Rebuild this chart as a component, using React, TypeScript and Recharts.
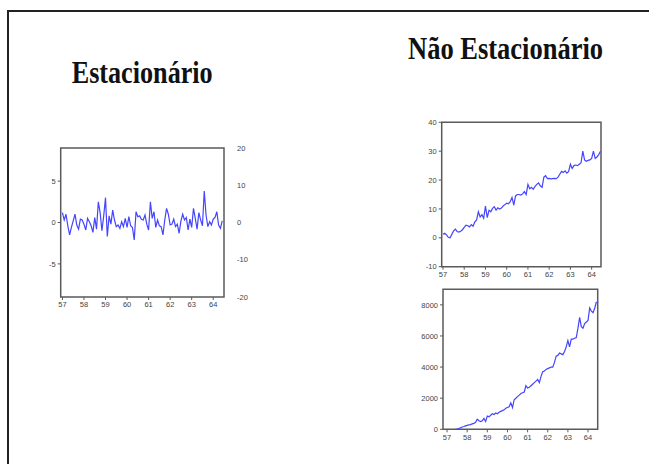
import { LineChart, Line, XAxis, YAxis, ReferenceArea } from 'recharts';

// monthly observations, 1957:01 - 1964:06
const START_YEAR = 57;
const yearTicks = [57, 58, 59, 60, 61, 62, 63, 64];

const stationary = [
  1.2, 0.3, 1.0, -0.4, -1.5, -0.6, 0.2, 1.0, -0.3, -0.8, 0.4, 0.3,
  -0.2, -0.9, 0.5, 0.1, -0.4, -1.2, 0.6, -0.8, 2.5, 1.2, -1.0, 0.8,
  3.0, -1.7, 0.8, -0.2, 1.5, 0.3, -0.5, -0.3, -0.7, 0.1, -0.5, 0.5,
  -0.6, 0.7, -0.4, -0.6, -2.1, 1.3, 0.7, 0.8, 0.4, 0.3, 0.9, -0.2,
  -0.9, 2.5, 0.5, 1.3, -0.6, 0.3, -0.4, -0.5, -1.5, 0.3, 1.7, 1.0,
  -0.3, -0.2, 0.4, -0.5, -0.2, -1.3, 0.2, 1.0, 0.3, 0.6, -0.9, 0.4,
  -0.6, 1.7, 0.5, -0.8, 1.2, 0.3, -0.4, 3.8, 0.9, -0.5, 0.1, -0.3,
  0.4, 0.6, 1.3, -0.3, -0.7, 0.2,
];

const trend = [
  1.2, 1.6, 1.0, 0.2, 0.0, 1.2, 2.4, 3.0, 2.2, 2.0, 2.3, 2.8,
  3.6, 4.4, 4.2, 3.8, 4.6, 4.0, 5.5, 6.2, 9.0, 7.2, 8.0, 6.8,
  11.0, 7.0, 9.5, 9.0, 10.2, 10.8, 9.6, 10.4, 10.0, 10.3, 11.0, 11.5,
  12.0, 11.8, 12.5, 14.0, 11.3, 14.5, 15.0, 15.0, 14.8, 15.2, 16.0, 15.0,
  18.5, 17.0, 17.5, 16.8, 17.8, 18.5, 19.0, 18.0, 17.5, 21.0, 21.5, 20.5,
  20.6, 20.4, 20.5, 20.6, 20.5, 21.0, 22.0, 23.0, 22.6, 23.2, 22.4, 23.0,
  25.5, 24.0, 25.0, 25.2, 25.0, 25.5, 26.0, 30.0, 27.0, 26.5, 26.8, 27.0,
  27.5, 30.0, 27.5, 28.0, 28.8, 30.0,
];

const growth = [
  null, null, null, null, null, 0, 20, 50, 90, 150, 180, 220,
  250, 280, 300, 350, 380, 450, 650, 550, 500, 550, 700, 500,
  850, 800, 900, 1000, 950, 1050, 1000, 1100, 1150, 1200, 1250, 1350,
  1400, 1450, 1700, 1400, 1900, 2000, 2100, 2200, 2300, 2350, 2400, 2800,
  2650, 2700, 2800, 2900, 3000, 3100, 3200, 3000, 3400, 3700, 3750, 3850,
  3900, 3950, 4000, 4000, 4300, 4700, 4750, 4900, 4850, 4800, 5000, 5300,
  5700, 5300, 5800, 5800, 5850, 5900, 6500, 7200, 6600, 6500, 6800, 6900,
  7000, 7800, 7600, 7500, 7800, 8200,
];

const rows = stationary.map((v, i) => ({
  t: START_YEAR + i / 12,
  stationary: v,
  trend: trend[i],
  growth: growth[i],
}));

const tickStyle = { fontSize: 7.5, fill: '#444', fontFamily: 'Arial, "Liberation Sans", sans-serif' };
const frame = '#5a5a5a';
const lineColor = '#4545ff';

export default function App() {
  return (
    <div style={{ position: 'absolute', left: 0, top: 0, width: 649, height: 464, background: '#fff', overflow: 'hidden' }}>
      <div style={{ position: 'absolute', left: 7, top: 10, width: 642, height: 454, borderTop: '2px solid #222', borderLeft: '2px solid #222', boxSizing: 'border-box' }} />

      <svg width={649} height={464} style={{ position: 'absolute', left: 0, top: 0 }}>
        <text x={71.7} y={82.7} fontFamily='"Liberation Serif", "Times New Roman", serif' fontWeight="bold" fontSize={32} textLength={141} lengthAdjust="spacingAndGlyphs" fill="#111">
          Estacionário
        </text>
        <text x={408} y={59.3} fontFamily='"Liberation Serif", "Times New Roman", serif' fontWeight="bold" fontSize={32} textLength={195} lengthAdjust="spacingAndGlyphs" fill="#111">
          Não Estacionário
        </text>
      </svg>

      {/* stationary series */}
      <div style={{ position: 'absolute', left: 30, top: 140 }}>
        <LineChart width={230} height={175} data={rows} margin={{ top: 8, right: 6, bottom: 0, left: 0 }}>
          <XAxis dataKey="t" type="number" domain={[56.92, 64.5]} ticks={yearTicks} allowDataOverflow axisLine={false} tickSize={3} tickLine={{ stroke: frame }} tick={tickStyle} height={18} interval={0} />
          <YAxis yAxisId="l" type="number" domain={[-9, 9]} ticks={[-5, 0, 5]} allowDataOverflow axisLine={false} tickSize={3} tickLine={{ stroke: frame }} tick={tickStyle} width={30.7} />
          <YAxis yAxisId="r" orientation="right" type="number" domain={[-20, 20]} ticks={[-20, -10, 0, 10, 20]} allowDataOverflow axisLine={false} tickLine={false} tickSize={11} tick={tickStyle} width={30} interval={0} />
          <ReferenceArea yAxisId="l" x1={56.92} x2={64.5} y1={-9} y2={9} fill="none" stroke={frame} strokeWidth={1.5} ifOverflow="visible" />
          <Line yAxisId="l" dataKey="stationary" stroke={lineColor} strokeWidth={1.2} dot={false} isAnimationActive={false} />
        </LineChart>
      </div>

      {/* linear trend */}
      <div style={{ position: 'absolute', left: 400, top: 114 }}>
        <LineChart width={210} height={170} data={rows} margin={{ top: 8.3, right: 9, bottom: 0, left: 0 }}>
          <XAxis dataKey="t" type="number" domain={[56.94, 64.44]} ticks={yearTicks} allowDataOverflow axisLine={false} tickSize={3} tickLine={{ stroke: frame }} tick={tickStyle} height={17.3} interval={0} />
          <YAxis type="number" domain={[-10, 40]} ticks={[-10, 0, 10, 20, 30, 40]} allowDataOverflow axisLine={false} tickSize={3} tickLine={{ stroke: frame }} tick={tickStyle} width={41.7} interval={0} />
          <ReferenceArea x1={56.94} x2={64.44} y1={-10} y2={40} fill="none" stroke={frame} strokeWidth={1.5} ifOverflow="visible" />
          <Line dataKey="trend" stroke={lineColor} strokeWidth={1.2} dot={false} isAnimationActive={false} />
        </LineChart>
      </div>

      {/* exponential growth */}
      <div style={{ position: 'absolute', left: 400, top: 281 }}>
        <LineChart width={210} height={165} data={rows} margin={{ top: 8.3, right: 12.3, bottom: 0, left: 0 }}>
          <XAxis dataKey="t" type="number" domain={[56.8, 64.48]} ticks={yearTicks} allowDataOverflow axisLine={false} tickSize={3} tickLine={{ stroke: frame }} tick={tickStyle} height={16.7} interval={0} />
          <YAxis type="number" domain={[0, 9000]} ticks={[0, 2000, 4000, 6000, 8000]} allowDataOverflow axisLine={false} tickSize={3} tickLine={{ stroke: frame }} tick={tickStyle} width={43} interval={0} />
          <ReferenceArea x1={56.8} x2={64.48} y1={0} y2={9000} fill="none" stroke={frame} strokeWidth={1.5} ifOverflow="visible" />
          <Line dataKey="growth" stroke={lineColor} strokeWidth={1.2} dot={false} isAnimationActive={false} connectNulls={false} />
        </LineChart>
      </div>
    </div>
  );
}
